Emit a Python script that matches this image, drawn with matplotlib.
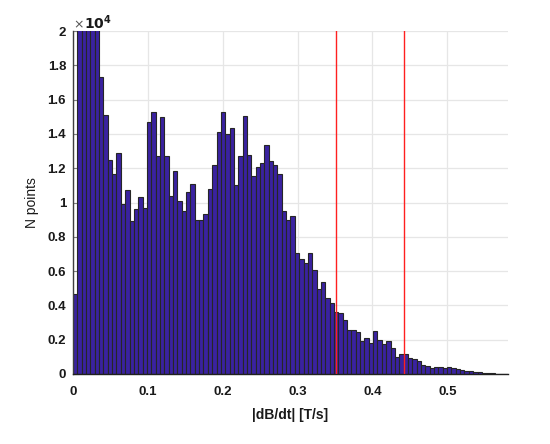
import numpy as np
import matplotlib
matplotlib.use("Agg")
import matplotlib.pyplot as plt

# histogram counts (units of 1e4), 100 bins from 0 to 0.581
counts_e4 = [
    0.465, 2.30, 2.60, 2.50, 2.20, 2.05, 1.730, 1.508, 1.248, 1.164,
    1.287, 0.989, 1.073, 0.890, 0.960, 1.032, 0.966, 1.467, 1.526, 1.269,
    1.499, 1.273, 1.038, 1.184, 1.011, 0.952, 1.059, 1.106, 0.898, 0.898,
    0.933, 1.080, 1.221, 1.409, 1.526, 1.397, 1.434, 1.104, 1.271, 1.506,
    1.279, 1.155, 1.205, 1.228, 1.337, 1.240, 1.217, 1.166, 0.952, 0.896,
    0.919, 0.706, 0.669, 0.645, 0.706, 0.606, 0.498, 0.536, 0.441, 0.414,
    0.363, 0.358, 0.313, 0.256, 0.259, 0.243, 0.194, 0.210, 0.183, 0.253,
    0.198, 0.173, 0.190, 0.150, 0.101, 0.117, 0.119, 0.091, 0.087, 0.074,
    0.054, 0.045, 0.033, 0.043, 0.041, 0.037, 0.039, 0.033, 0.029, 0.023,
    0.019, 0.016, 0.014, 0.014, 0.006, 0.004, 0.004, 0.002, 0.001, 0.001,
]
x_min, x_max = 0.0, 0.581
thresholds = [0.3517, 0.4423]
x_ticks = [0, 0.1, 0.2, 0.3, 0.4, 0.5]
y_ticks = [0, 0.2, 0.4, 0.6, 0.8, 1.0, 1.2, 1.4, 1.6, 1.8, 2.0]

counts = np.array(counts_e4) * 1e4
edges = np.linspace(x_min, x_max, len(counts) + 1)

fig = plt.figure(figsize=(5.5, 4.44), dpi=100)
ax = fig.add_axes([0.1327, 0.1577, 0.7909, 0.7723])

ax.bar(edges[:-1], counts, width=np.diff(edges), align='edge',
       color='#3a22a0', edgecolor='#262626', linewidth=0.8, zorder=2)
for t in thresholds:
    ax.axvline(t, color='#ff2020', linewidth=1.0, zorder=3)

ax.set_xlim(x_min, x_max)
ax.set_ylim(0, 2e4)
ax.set_xticks(x_ticks)
ax.set_xticklabels([('%g' % v) for v in x_ticks])
ax.set_yticks([v * 1e4 for v in y_ticks])
ax.set_yticklabels([('%g' % v) for v in y_ticks])

ax.grid(True, color='#e6e6e6', linewidth=0.9, zorder=0)
ax.set_axisbelow(True)
for s in ['top', 'right']:
    ax.spines[s].set_visible(False)
ax.spines['left'].set_color('#404040')
ax.spines['bottom'].set_color('#202020')
ax.spines['left'].set_linewidth(1.0)
ax.spines['bottom'].set_linewidth(1.0)
ax.tick_params(axis='y', direction='in', length=4, color='#808080', pad=5)
ax.tick_params(axis='x', direction='in', length=0, pad=9)
for lbl in ax.get_xticklabels() + ax.get_yticklabels():
    lbl.set_fontfamily('Liberation Sans')
    lbl.set_fontweight('bold')
    lbl.set_fontsize(9.5)
    lbl.set_color('#1a1a1a')

ax.set_xlabel('|dB/dt| [T/s]', fontfamily='Liberation Sans', fontweight='bold',
              fontsize=10, color='#1a1a1a', labelpad=7)
ax.set_ylabel('N points', fontfamily='Liberation Sans', fontsize=10,
              color='#1a1a1a', labelpad=6)

ax.text(0.0, 1.0, r'$\times$', transform=ax.transAxes, fontsize=9,
        color='#555555', ha='left', va='bottom')
ax.text(0.025, 0.998, r'$\mathbf{10^4}$', transform=ax.transAxes, fontsize=10,
        color='#1a1a1a', ha='left', va='bottom')

fig.savefig('out.png', dpi=100)
